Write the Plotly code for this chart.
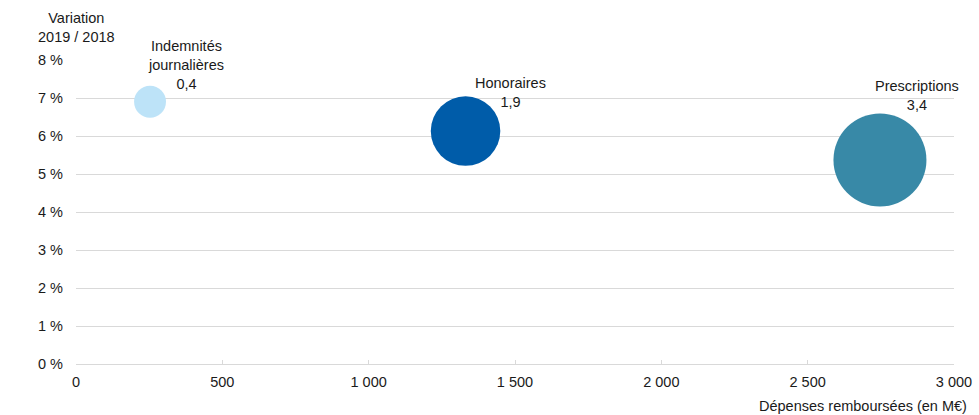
import plotly.graph_objects as go

# Data
categories = ["Indemnités journalières", "Honoraires", "Prescriptions"]
depenses = [253, 1331, 2747]          # Dépenses remboursées (M€)
variation = [6.90, 6.13, 5.37]        # Variation 2019/2018 (%)
bubble_values = [0.4, 1.9, 3.4]        # bubble size / label value
x_ticks = [0, 500, 1000, 1500, 2000, 2500, 3000]
x_tick_labels = ["0", "500", "1 000", "1 500", "2 000", "2 500", "3 000"]
y_ticks = [0, 1, 2, 3, 4, 5, 6, 7, 8]
y_tick_labels = ["0 %", "1 %", "2 %", "3 %", "4 %", "5 %", "6 %", "7 %", "8 %"]

# Styles
colors = ["#BDE3F8", "#005CA9", "#3889A7"]
label_shift = [(36, 8), (45, 19), (37, 45)]
FONT = "Liberation Sans, Arial, sans-serif"
TXT = "#1a1a1a"
GRID = "#D9D9D9"

fig = go.Figure()
fig.add_trace(go.Scatter(
    x=depenses, y=variation, mode="markers",
    marker=dict(size=bubble_values, sizemode="area", sizeref=1.7 / 46.5 ** 2,
                color=colors, opacity=1, line=dict(width=0)),
    hoverinfo="skip", showlegend=False,
))

for xv, yv, name, v, (dx, dy) in zip(depenses, variation, categories, bubble_values, label_shift):
    txt = name.replace(" ", "<br>") + "<br>" + f"{v:.1f}".replace(".", ",")
    fig.add_annotation(x=xv, y=yv, xref="x", yref="y", text=txt, showarrow=False,
                       xanchor="center", yanchor="bottom", xshift=dx, yshift=dy,
                       align="center", font=dict(family=FONT, size=14.5, color=TXT))

fig.add_annotation(x=0, y=1, xref="paper", yref="paper", text="Variation<br>2019 / 2018",
                   showarrow=False, xanchor="center", yanchor="top", align="center",
                   yshift=52, font=dict(family=FONT, size=14.5, color=TXT))
fig.add_annotation(x=1, y=0, xref="paper", yref="paper", text="Dépenses remboursées (en M€)",
                   showarrow=False, xanchor="right", yanchor="middle", yshift=-42, xshift=15,
                   font=dict(family=FONT, size=14.5, color=TXT))

fig.update_layout(
    width=979, height=415,
    margin=dict(l=76, r=25, t=60, b=51, autoexpand=False),
    paper_bgcolor="white", plot_bgcolor="white",
    font=dict(family=FONT, size=14.5, color=TXT),
    xaxis=dict(range=[0, 3000], tickvals=x_ticks, ticktext=x_tick_labels, automargin=False,
               showgrid=False, zeroline=False, showline=True, linecolor=GRID, linewidth=1,
               ticks="inside", ticklen=4, tickcolor=GRID, tickwidth=1, ticklabelstandoff=5,
               tickfont=dict(family=FONT, size=14.5, color=TXT)),
    yaxis=dict(range=[0, 8], tickvals=y_ticks, ticktext=y_tick_labels, automargin=False,
               showgrid=True, gridcolor=GRID, gridwidth=1, zeroline=False, showline=False,
               ticks="", ticklabelstandoff=12,
               tickfont=dict(family=FONT, size=14.5, color=TXT)),
)

fig.write_html("out.html")
